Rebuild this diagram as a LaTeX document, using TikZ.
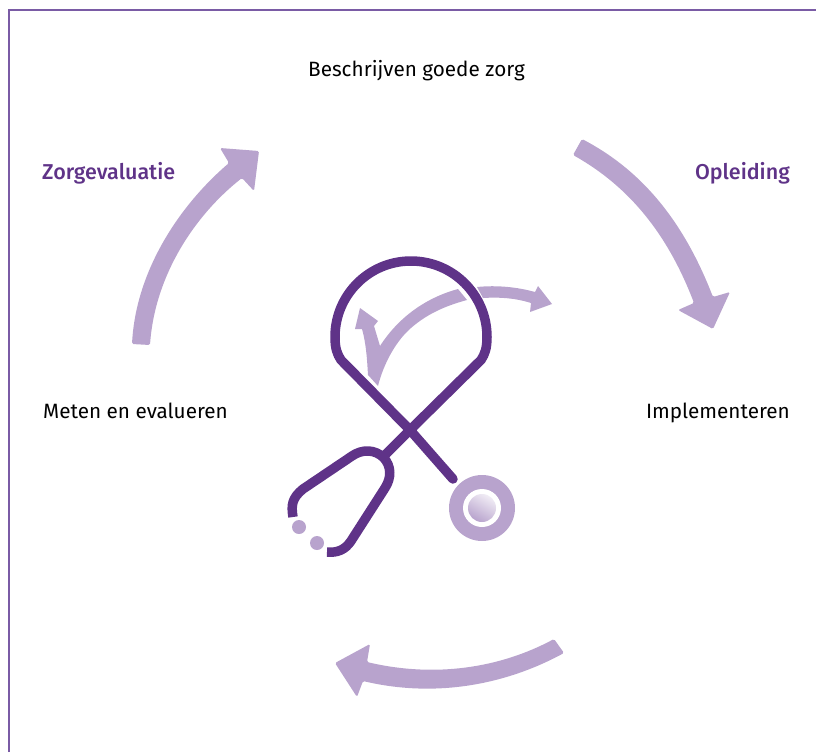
\documentclass[tikz,border=0pt]{standalone}
\usepackage{fontspec}
\setmainfont[BoldFont={Fira Sans Medium}]{Fira Sans}
\definecolor{paars}{HTML}{5F3388}
\definecolor{lila}{HTML}{B8A3CD}
\definecolor{kader}{HTML}{7A5BA5}
\tikzset{
  stap/.style  = {font=\fontsize{20.7}{24}\selectfont, anchor=base west, inner sep=0pt},
  kop/.style   = {stap, font=\fontsize{21.5}{24}\selectfont\bfseries, text=paars},
  pijl/.style  = {fill=lila, rounded corners=1.5pt},
  steth/.style = {draw=paars, line width=9.5pt, line join=round}
}
\begin{document}
\begin{tikzpicture}[x=1pt, y=-1pt]
\useasboundingbox (0,0) rectangle (816,752);
% ---- frame ----
\draw[kader, line width=1.5pt] (9,752) -- (9,10) -- (816,10);

% ---- labels ----
\node[stap] (beschrijven) at (308,77) {Beschrijven goede zorg};
\node[kop] (zorgevaluatie) at (42,179) {Zorgevaluatie};
\node[kop, anchor=base east] (opleiding) at (790,179) {Opleiding};
\node[stap] (meten) at (43,418) {Meten en evalueren};
\node[stap, anchor=base east] (implementeren) at (790,418) {Implementeren};

% ---- cycle arrows ----
\fill[pijl] (132,344) .. controls (136,270) and (180,205) .. (229,163)
  -- (220,148) -- (259,151) -- (254,191) -- (242,178)
  .. controls (195,215) and (155,275) .. (150,345) -- cycle;
\fill[pijl] (582,139) .. controls (645,172) and (685,225) .. (713,297)
  -- (730,292) -- (713,329) -- (678,310) -- (694,303)
  .. controls (668,235) and (630,187) .. (573,155) -- cycle;
\fill[pijl] (564,653) .. controls (505,685) and (435,698) .. (363,681)
  -- (357,697) -- (335,663) -- (370,644) -- (367,662)
  .. controls (435,678) and (500,668) .. (554,639) -- cycle;

% ---- check mark ----
\fill[lila] (378,386) .. controls (384,362) and (397,340) .. (411,328)
  .. controls (427,314) and (445,306) .. (467,300)
  -- (458,289) .. controls (425,298) and (398,318) .. (380,346)
  -- (374,326) -- (378,321) -- (360,308) -- (355,329) -- (362,329)
  .. controls (366,343) and (367,358) .. (368,375) -- cycle;
\fill[lila] (477,287) .. controls (497,285) and (517,287) .. (535,292)
  -- (538,286) -- (552,304) -- (530,312) -- (531,303)
  .. controls (515,298) and (500,297) .. (483,298) -- cycle;

% ---- stethoscope ----
\draw[steth, line cap=round] (453,479) -- (410,430) -- (341,360)
  .. controls (337,354) and (335,348) .. (335,337)
  arc[start angle=180, end angle=360, radius=76]
  .. controls (487,348) and (485,354) .. (481,360) -- (410,430) -- (385,455);
\draw[steth] (293,517) .. controls (291,505) and (292,498) .. (303,489)
  -- (352,456) .. controls (362,449) and (375,449) .. (384,458)
  .. controls (391,466) and (392,477) .. (385,488) -- (351,541)
  .. controls (345,550) and (337,553) .. (327,552);
\fill[lila] (299,527) circle[radius=7];
\fill[lila] (317,543) circle[radius=7];

% ---- chest piece ----
\fill[lila] (482,508) circle[radius=33];
\fill[white] (482,508) circle[radius=19];
\shade[left color=lila!20, right color=lila, shading angle=-30] (482,508) circle[radius=14];
\end{tikzpicture}
\end{document}
